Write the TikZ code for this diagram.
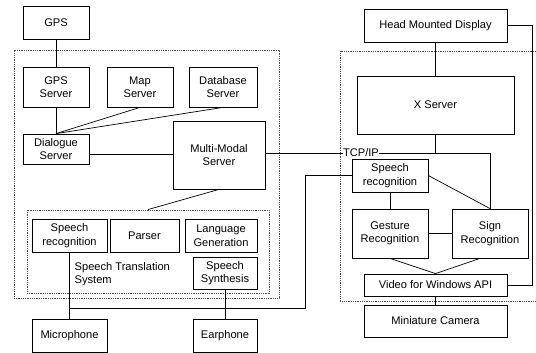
\documentclass[tikz,border=0pt]{standalone}
\usepackage{fontspec}
\setmainfont{Liberation Sans}
\usetikzlibrary{calc}
\begin{document}
\begin{tikzpicture}[x=1pt,y=-1pt,
  box/.style={draw,line width=0.8pt,align=center,inner sep=0pt,font=\fontsize{11.1}{13.5}\selectfont},
  conn/.style={line width=0.7pt},
  dotbox/.style={draw=black!70,line width=0.9pt,dash pattern=on 1pt off 0.8pt,inner sep=0pt},
  lbl/.style={align=left,inner sep=0pt,font=\fontsize{11.1}{13.5}\selectfont}]
\useasboundingbox (0,0) rectangle (536,353);
% dotted groups
\node[dotbox,minimum width=265pt,minimum height=248pt] (outer) at (146.5,174) {};
\node[dotbox,minimum width=242pt,minimum height=83pt] (stsbox) at (148,251.5) {};
\draw[dotbox] (536,51) -- (340,51) -- (340,301) -- (536,301);
% left nodes
\node[box,minimum width=66pt,minimum height=33pt] (gps) at (56,22.5) {GPS};
\node[box,minimum width=66pt,minimum height=40pt] (gpss) at (56,87) {GPS\\Server};
\node[box,minimum width=66pt,minimum height=40pt] (map) at (140,87) {Map\\Server};
\node[box,minimum width=68pt,minimum height=40pt] (db) at (223,87) {Database\\Server};
\node[box,minimum width=66pt,minimum height=30pt] (dlg) at (56,149) {Dialogue\\Server};
\node[box,minimum width=92pt,minimum height=68pt] (mm) at (219,155) {Multi-Modal\\Server};
\node[box,minimum width=75pt,minimum height=33pt] (sr1) at (69.5,235.5) {Speech\\recognition};
\node[box,minimum width=69pt,minimum height=33pt] (parser) at (144.5,235.5) {Parser};
\node[box,minimum width=72pt,minimum height=33pt] (lg) at (221,235.5) {Language\\Generation};
\node[box,minimum width=64pt,minimum height=32pt] (ss) at (225,273) {Speech\\Synthesis};
\node[lbl,anchor=west] (stslbl) at (74.5,274) {Speech Translation\\System};
\node[box,minimum width=75pt,minimum height=33pt] (mic) at (69.5,335.5) {Microphone};
\node[box,minimum width=64pt,minimum height=33pt] (ear) at (225,335.5) {Earphone};
% right nodes
\node[box,minimum width=143pt,minimum height=33pt] (hmd) at (435.5,25.5) {Head Mounted Display};
\node[box,minimum width=157pt,minimum height=58pt] (xs) at (435.5,105) {X Server};
\node[box,minimum width=76pt,minimum height=33pt] (sr2) at (390,175.5) {Speech\\recognition};
\node[box,minimum width=76pt,minimum height=49pt] (gest) at (390,233.5) {Gesture\\Recognition};
\node[box,minimum width=76pt,minimum height=49pt] (sign) at (490,233.5) {Sign\\Recognition};
\node[box,minimum width=143pt,minimum height=22pt] (vfw) at (435.5,285) {Video for Windows API};
\node[box,minimum width=143pt,minimum height=32pt] (cam) at (435.5,321) {Miniature Camera};
% connectors left
\draw[conn] (gps.south) -- (gpss.north);
\draw[conn] (gpss.south) -- (dlg.north);
\draw[conn] (map.south) -- (dlg.north);
\draw[conn] (db.south) -- (dlg.north);
\draw[conn] (dlg.east) ++(0,5) coordinate (d1) -- (d1 -| mm.west);
\draw[conn] (mm.south) -- (stsbox.north);
\draw[conn] (sr1.south) -- (mic.north);
\draw[conn] (ss.south) -- (ear.north);
\path (mic.north) ++(0,-10) coordinate (j1);
\coordinate (turn) at (305,0);
\draw[conn] (j1) -- (j1 -| turn) |- (sr2.west);
% TCP/IP
\draw[conn] (mm.east) ++(0,-2) coordinate (t1) -- (t1 -| sign.north) -- (sign.north);
\draw[conn] (xs.south) -- (xs.south |- t1);
\node[lbl,fill=white,inner sep=0.6pt] (tcp) at (361,153) {TCP/IP};
% connectors right
\draw[conn] (hmd.south) -- (xs.north);
\draw[conn] (sr2.east) -- (sign.north);
\draw[conn] (sr2.south) -- (gest.north);
\draw[conn] (gest.east) -- (sign.west);
\draw[conn] (gest.south) -- (vfw.north);
\draw[conn] ([xshift=-10pt]sign.south) -- (vfw.north);
\draw[conn] (vfw.south) -- (cam.north);
\draw[conn] (hmd.east) -- ++(25,0) |- (vfw.east);
\end{tikzpicture}
\end{document}
